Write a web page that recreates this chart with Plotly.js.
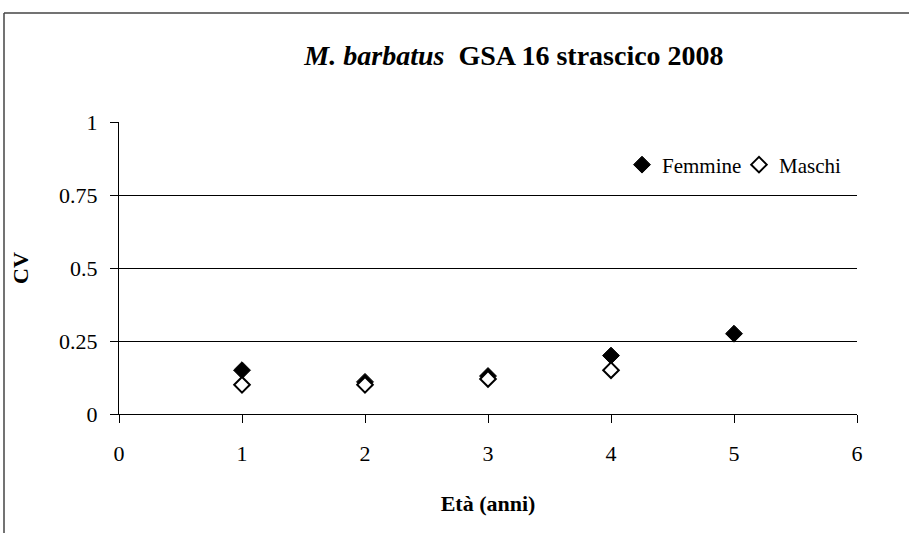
<!DOCTYPE html>
<html>
<head>
<meta charset="utf-8">
<script src="https://cdn.plot.ly/plotly-3.0.1.min.js"></script>
<style>html,body{margin:0;padding:0;background:#fff;}#chart{width:909px;height:533px;}</style>
</head>
<body>
<div id="chart"></div>
<script>
const ageF = [1, 2, 3, 4, 5];
const cvF = [0.15, 0.11, 0.13, 0.20, 0.275];
const ageM = [1, 2, 3, 4];
const cvM = [0.10, 0.10, 0.12, 0.15];
const yTicks = [0, 0.25, 0.5, 0.75, 1];
const yTickText = ['0', '0.25', '0.5', '0.75', '1'];
const xTicks = [0, 1, 2, 3, 4, 5, 6];

const serif = '"Liberation Serif", "Times New Roman", Times, serif';

const traces = [
  {x: ageF, y: cvF, type: 'scatter', mode: 'markers', name: 'Femmine',
   marker: {symbol: 'diamond', size: 13, color: '#000', line: {color: '#000', width: 1}}},
  {x: ageM, y: cvM, type: 'scatter', mode: 'markers', name: 'Maschi',
   marker: {symbol: 'diamond', size: 12, color: '#fff', line: {color: '#000', width: 2}}}
];

const L = 119, R = 857, T = 122, B = 414;
const px = v => (v - L) / (R - L);
const py = v => (B - v) / (B - T);

const layout = {
  width: 909, height: 533,
  margin: {l: L, r: 909 - R, t: T, b: 533 - B, pad: 0, autoexpand: false},
  paper_bgcolor: '#fff', plot_bgcolor: '#fff',
  font: {family: serif, color: '#000', size: 22},
  title: {text: '<b><i>M. barbatus</i>  GSA 16 strascico 2008</b>', x: 514/909, xanchor: 'center', y: 1 - 55/533, yanchor: 'middle',
          font: {family: serif, size: 28, color: '#000'}},
  xaxis: {range: [0, 6], tickvals: xTicks, ticktext: xTicks.map(String), showgrid: false, zeroline: false,
          showline: true, linecolor: '#000', linewidth: 1, ticks: 'outside', ticklen: 8, tickcolor: '#000',
          ticklabelstandoff: 12,
          tickfont: {family: serif, size: 22}, fixedrange: true,
          title: {text: '<b>Età (anni)</b>', font: {family: serif, size: 22}, standoff: 30}},
  yaxis: {range: [0, 1], tickvals: yTicks, ticktext: yTickText, showgrid: true, gridcolor: '#000', gridwidth: 1,
          zeroline: false, showline: true, linecolor: '#000', linewidth: 1, ticks: 'outside', ticklen: 8, tickcolor: '#000',
          ticklabelstandoff: 8,
          tickfont: {family: serif, size: 22}, fixedrange: true,
          title: {text: '<b>CV</b>', font: {family: serif, size: 22}, standoff: 24}},
  legend: {orientation: 'h', x: px(622), y: py(165), xanchor: 'left', yanchor: 'middle',
           font: {family: serif, size: 21}, bgcolor: 'rgba(0,0,0,0)', entrywidth: 72, entrywidthmode: 'pixels'},
  showlegend: true,
  shapes: [
    {type: 'line', xref: 'paper', yref: 'paper', x0: px(4), x1: px(4), y0: py(13), y1: py(540), line: {color: '#444', width: 1.5}},
    {type: 'line', xref: 'paper', yref: 'paper', x0: px(4), x1: px(915), y0: py(13), y1: py(13), line: {color: '#444', width: 1.5}}
  ]
};

Plotly.newPlot('chart', traces, layout, {displayModeBar: false, staticPlot: true});
</script>
</body>
</html>
